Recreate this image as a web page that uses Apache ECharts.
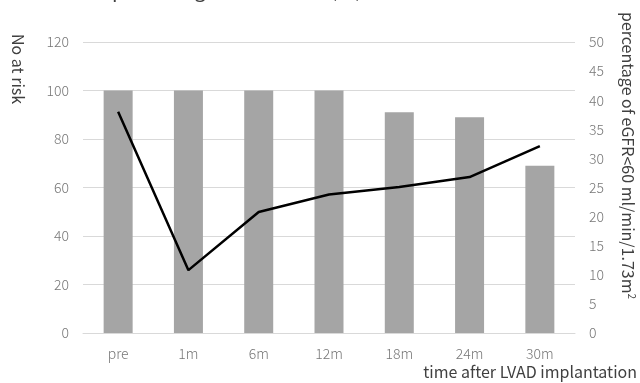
<!DOCTYPE html>
<html>
<head>
<meta charset="utf-8">
<script src="https://cdn.jsdelivr.net/npm/echarts@6/dist/echarts.min.js"></script>
<style>html,body{margin:0;padding:0;background:#fff}#c{width:640px;height:383px}</style>
</head>
<body>
<div id="c"></div>
<script>
var categories = ['pre', '1m', '6m', '12m', '18m', '24m', '30m'];
var noAtRisk = [100, 100, 100, 100, 91, 89, 69];
var pctEgfr = [38.0, 10.8, 20.8, 23.8, 25.1, 26.8, 32.1];
var leftTicks = [0, 120, 20];
var rightTicks = [0, 50, 5];

var FONT = '"Noto Sans CJK JP", "Noto Sans", sans-serif';
var chart = echarts.init(document.getElementById('c'), null, {renderer: 'canvas'});
chart.setOption({
  animation: false,
  backgroundColor: '#fff',
  title: {
    text: 'percentage of eGFR<60 (%)',
    left: 107, top: -26,
    textStyle: {fontFamily: FONT, fontSize: 20, fontWeight: 'normal', color: '#404040'}
  },
  grid: {left: 83, right: 65, top: 42, bottom: 50},
  xAxis: {
    type: 'category',
    data: categories,
    axisLine: {lineStyle: {color: '#d9d9d9', width: 1}},
    axisTick: {show: false},
    axisLabel: {color: '#777777', fontFamily: FONT, fontWeight: 300, fontSize: 14, margin: 14}
  },
  yAxis: [{
    type: 'value', min: leftTicks[0], max: leftTicks[1], interval: leftTicks[2],
    axisLine: {show: false}, axisTick: {show: false},
    axisLabel: {color: '#777777', fontFamily: FONT, fontWeight: 300, fontSize: 14, margin: 14},
    splitLine: {lineStyle: {color: '#d9d9d9', width: 1}}
  }, {
    type: 'value', min: rightTicks[0], max: rightTicks[1], interval: rightTicks[2],
    position: 'right',
    axisLine: {show: false}, axisTick: {show: false},
    axisLabel: {color: '#777777', fontFamily: FONT, fontWeight: 300, fontSize: 14, margin: 14},
    splitLine: {show: false}
  }],
  series: [{
    type: 'bar', data: noAtRisk, yAxisIndex: 0, barWidth: 29,
    itemStyle: {color: '#a5a5a5'}
  }, {
    type: 'line', data: pctEgfr, yAxisIndex: 1,
    symbol: 'none', lineStyle: {color: '#000', width: 2.5}
  }],
  graphic: [{
    type: 'text', x: 18, y: 34, rotation: -Math.PI / 2,
    style: {text: 'No at risk', font: '16px ' + FONT, fill: '#404040', align: 'left', verticalAlign: 'middle'}
  }, {
    type: 'text', x: 628, y: 12, rotation: -Math.PI / 2,
    style: {
      text: 'percentage of eGFR<60 ml/min/1.73m{s|2}',
      font: '16px ' + FONT, fill: '#404040', align: 'left', verticalAlign: 'middle',
      rich: {s: {fontSize: 10, fontFamily: FONT, fill: '#404040', verticalAlign: 'top', padding: [0, 0, 8, 0]}}
    }
  }, {
    type: 'text', x: 637, y: 372,
    style: {text: 'time after LVAD implantation', font: '16px ' + FONT, fill: '#404040', align: 'right', verticalAlign: 'middle'}
  }]
});
</script>
</body>
</html>
